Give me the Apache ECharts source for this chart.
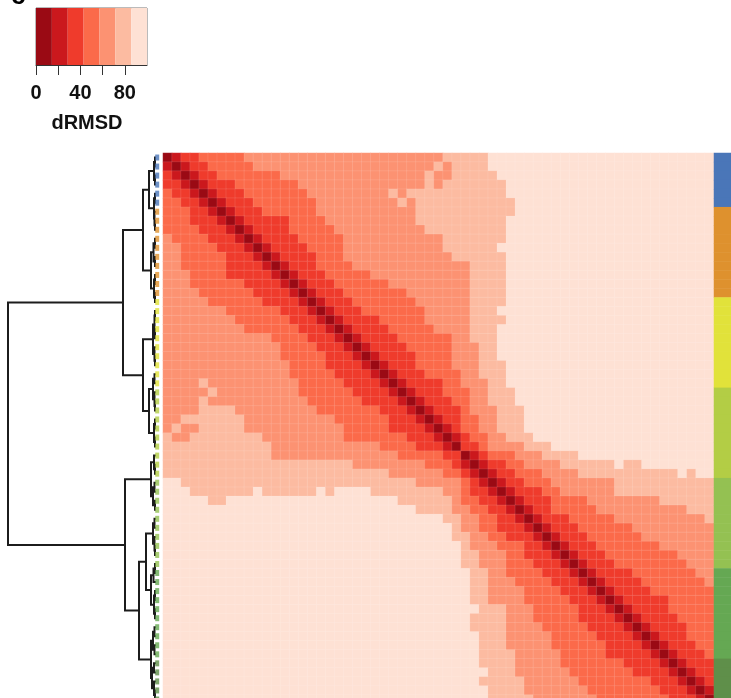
<!DOCTYPE html>
<html><head><meta charset="utf-8">
<script src="https://cdn.jsdelivr.net/npm/echarts@6/dist/echarts.min.js"></script>
<style>html,body{margin:0;padding:0;background:#fff;overflow:hidden}#c{width:731px;height:698px}</style>
</head><body><div id="c"></div>
<script>
// dRMSD class of each colour step
const levelValues = [7, 21, 35, 49, 63, 77, 91];
const levelColors = ['#9a0a14', '#cb181d', '#ef3b2c', '#fb6a4a', '#fc9272', '#fcbba1', '#fee1d4'];
const legendEdges = [0, 14.3, 28.6, 42.9, 57.2, 71.5, 85.8, 100];
const legendTicks = [0, 40, 80];

// Symmetric matrix, upper triangle: row by row, [level, last column of that level]
const upperRuns = [
[[0,0],[1,1],[2,3],[3,8],[4,30],[5,35],[6,60]],
[[0,1],[1,2],[2,4],[3,9],[4,29],[5,30],[4,31],[5,35],[6,60]],
[[0,2],[1,3],[2,5],[3,12],[4,28],[5,29],[4,31],[5,36],[6,60]],
[[0,3],[1,4],[2,7],[3,14],[4,28],[5,29],[4,30],[5,37],[6,60]],
[[0,4],[1,5],[2,8],[3,15],[4,24],[5,25],[4,26],[5,37],[6,60]],
[[0,5],[1,6],[2,9],[3,16],[4,25],[5,26],[4,27],[5,38],[6,60]],
[[0,6],[1,7],[2,10],[3,16],[4,27],[5,38],[6,60]],
[[0,7],[1,8],[2,13],[3,17],[4,27],[5,37],[6,60]],
[[0,8],[1,9],[2,13],[3,18],[4,28],[5,37],[6,60]],
[[0,9],[1,10],[2,14],[3,19],[4,30],[5,37],[6,60]],
[[0,10],[1,11],[2,15],[3,19],[4,30],[5,36],[6,60]],
[[0,11],[1,12],[2,16],[3,19],[4,31],[5,37],[6,60]],
[[0,12],[1,13],[2,16],[3,20],[4,33],[5,37],[6,60]],
[[0,13],[1,14],[2,17],[3,22],[4,33],[5,37],[6,60]],
[[0,14],[1,15],[2,18],[3,24],[4,33],[5,37],[6,60]],
[[0,15],[1,16],[2,19],[3,26],[4,33],[5,37],[6,60]],
[[0,16],[1,17],[2,20],[3,27],[4,33],[5,37],[6,60]],
[[0,17],[1,18],[2,21],[3,28],[4,33],[5,36],[6,60]],
[[0,18],[1,19],[2,23],[3,28],[4,33],[5,37],[6,60]],
[[0,19],[1,20],[2,24],[3,29],[4,33],[5,36],[6,60]],
[[0,20],[1,21],[2,25],[3,31],[4,33],[5,36],[6,60]],
[[0,21],[1,22],[2,26],[3,31],[4,34],[5,36],[6,60]],
[[0,22],[1,23],[2,27],[3,31],[4,34],[5,36],[6,60]],
[[0,23],[1,24],[2,27],[3,31],[4,34],[5,37],[6,60]],
[[0,24],[1,25],[2,28],[3,32],[4,34],[5,37],[6,60]],
[[0,25],[1,26],[2,30],[3,32],[4,35],[5,37],[6,60]],
[[0,26],[1,27],[2,30],[3,33],[4,35],[5,38],[6,60]],
[[0,27],[1,28],[2,31],[3,33],[4,35],[5,38],[6,60]],
[[0,28],[1,29],[2,32],[3,33],[4,36],[5,39],[6,60]],
[[0,29],[1,30],[2,32],[3,34],[4,36],[5,39],[6,60]],
[[0,30],[1,31],[2,32],[3,34],[4,36],[5,39],[6,60]],
[[0,31],[1,32],[2,33],[3,35],[4,37],[5,40],[6,60]],
[[0,32],[2,34],[3,35],[4,39],[5,42],[6,60]],
[[0,33],[1,34],[2,35],[3,38],[4,41],[5,45],[6,60]],
[[0,34],[1,35],[2,37],[3,39],[4,43],[5,49],[6,50],[5,52],[6,60]],
[[0,35],[1,36],[2,38],[3,41],[4,45],[5,56],[6,57],[5,58],[6,60]],
[[0,36],[1,37],[2,39],[3,42],[4,49],[5,60]],
[[0,37],[1,38],[2,41],[3,43],[4,49],[5,60]],
[[0,38],[1,39],[2,42],[3,46],[4,54],[5,60]],
[[0,39],[1,40],[2,42],[3,47],[4,57],[5,60]],
[[0,40],[1,41],[2,44],[3,49],[4,59],[5,60]],
[[0,41],[1,42],[2,45],[3,51],[4,60]],
[[0,42],[1,43],[2,46],[3,52],[4,60]],
[[0,43],[1,44],[2,47],[3,54],[4,60]],
[[0,44],[1,45],[2,48],[3,56],[4,60]],
[[0,45],[1,46],[2,49],[3,57],[4,60]],
[[0,46],[1,47],[2,51],[3,58],[4,60]],
[[0,47],[1,48],[2,52],[3,59],[4,60]],
[[0,48],[1,49],[2,53],[3,60]],
[[0,49],[1,50],[2,55],[3,60]],
[[0,50],[1,51],[2,55],[3,60]],
[[0,51],[1,52],[2,56],[3,60]],
[[0,52],[1,53],[2,57],[3,60]],
[[0,53],[1,54],[2,57],[3,60]],
[[0,54],[1,55],[2,58],[3,60]],
[[0,55],[1,56],[2,59],[3,60]],
[[0,56],[1,57],[2,60]],
[[0,57],[1,58],[2,60]],
[[0,58],[1,59],[2,60]],
[[0,59],[1,60]],
[[0,60]]
];

// Annotation strip: how many rows each group covers, and its colour
const groupSizes = [6, 10, 10, 10, 10, 10, 5];
const groupColors = ['#4a76b8', '#de912e', '#e1e23a', '#b3cd45', '#94c152', '#65a853', '#5f8f4a'];

// Dendrogram: [merge height, child, child]; a number is a leaf row
const dendroTree = [148,
  [33,
    [13,
      [7,
        [2, [1,0,1], [1,2,3]],
        [2, [1,4,5], [1.5,6,[1,7,8]]]
      ],
      [5,
        [2.5, [1,9,10], [1,11,12]],
        [2, [1,13,14], [1,15,16]]
      ]
    ],
    [13,
      [3,
        [1.5, [1,17,18], [1,19,20]],
        [1.5, 21, [1,22,23]]
      ],
      [7,
        [3, [1.5,24,25], [1.5,26,[1,27,28]]],
        [2, [1,29,30], [1,31,32]]
      ]
    ]
  ],
  [31,
    [5,
      [2, 33, [1,34,35]],
      [3, [1.5,36,37], [1,38,39]]
    ],
    [17,
      [10,
        [3, [1.5,40,41], [1.5,42,[1,43,44]]],
        [5, [2.5,[1,45,46],47], [2,[1,48,49],[1,50,51]]]
      ],
      [5,
        [3, [1.5,52,53], [1.5,54,55]],
        [4, [2,56,57], [2,58,[1,59,60]]]
      ]
    ]
  ]
];

const rowCount = upperRuns.length;
const matrix = [];
upperRuns.forEach((runs, r) => {
  let c = r;
  runs.forEach(([lvl, last]) => {
    for (; c <= last; c++) {
      matrix.push([c, r, levelValues[lvl]]);
      if (c !== r) matrix.push([r, c, levelValues[lvl]]);
    }
  });
});

const rowNames = Array.from({length: rowCount}, (_, i) => String(i));
const stripData = [], leafData = [];
let row = 0;
groupSizes.forEach((n, g) => {
  for (let i = 0; i < n; i++, row++) {
    stripData.push({value: [0, row, g], itemStyle: {color: groupColors[g]}});
    leafData.push({value: [-1.2, row], itemStyle: {color: groupColors[g]}});
  }
});

// Walk the tree: every merge gives one bracket
const brackets = [];
function walk(node) {
  if (typeof node === 'number') return {h: 0, p: node};
  const a = walk(node[1]), b = walk(node[2]);
  brackets.push([a.h, a.p, node[0], b.p, b.h]);
  return {h: node[0], p: (a.p + b.p) / 2};
}
walk(dendroTree);

const legendData = levelColors.map((col, i) => ({value: [legendEdges[i], legendEdges[i + 1]], itemStyle: {color: col}}));

const chart = echarts.init(document.getElementById('c'), null, {renderer: 'canvas'});
const font = '"Liberation Sans", Arial, sans-serif';
chart.setOption({
  animation: false,
  backgroundColor: '#fff',
  graphic: [{type: 'text', left: 11, top: -16, style: {text: 'c', fontSize: 26, fontWeight: 'bold', fontFamily: font, fill: '#000'}}],
  grid: [
    {left: 163, top: 153, width: 551, height: 551, outerBoundsMode: 'none'},
    {left: 714, top: 153, width: 20, height: 551, outerBoundsMode: 'none'},
    {left: 8, top: 153, width: 152, height: 551, outerBoundsMode: 'none'},
    {left: 36, top: 8, width: 111, height: 57, outerBoundsMode: 'none', show: true, backgroundColor: 'transparent', borderColor: '#777', borderWidth: 1}
  ],
  xAxis: [
    {type: 'category', gridIndex: 0, data: rowNames, show: false},
    {type: 'category', gridIndex: 1, data: ['group'], show: false},
    {type: 'value', gridIndex: 2, min: -4, max: 148, inverse: true, show: false},
    {type: 'value', gridIndex: 3, min: 0, max: 100, interval: 20,
      splitLine: {show: false},
      axisLine: {show: true, lineStyle: {color: '#333', width: 1}},
      axisTick: {show: true, length: 10, lineStyle: {color: '#333', width: 1}},
      axisLabel: {margin: 18, fontSize: 20, fontFamily: font, fontWeight: 'bold', color: '#111', hideOverlap: false,
        showMinLabel: true, showMaxLabel: false,
        formatter: v => legendTicks.includes(v) ? String(v) : ''},
      name: 'dRMSD', nameLocation: 'middle', nameGap: 48,
      nameTextStyle: {fontSize: 20, fontFamily: font, fontWeight: 'bold', color: '#111', padding: [0, 9, 0, 0]}}
  ],
  yAxis: [
    {type: 'category', gridIndex: 0, data: rowNames, inverse: true, show: false},
    {type: 'category', gridIndex: 1, data: rowNames, inverse: true, show: false},
    {type: 'value', gridIndex: 2, min: -0.5, max: 60.5, inverse: true, show: false},
    {type: 'value', gridIndex: 3, min: 0, max: 1, show: false}
  ],
  visualMap: {
    show: false, type: 'piecewise', seriesIndex: 0, dimension: 2,
    pieces: levelColors.map((col, i) => ({min: legendEdges[i], max: legendEdges[i + 1], color: col}))
  },
  series: [
    {type: 'heatmap', xAxisIndex: 0, yAxisIndex: 0, data: matrix, progressive: 0,
      itemStyle: {borderColor: 'rgba(255,255,255,0.18)', borderWidth: 0.6}, emphasis: {disabled: true}},
    {type: 'heatmap', xAxisIndex: 1, yAxisIndex: 1, data: stripData, progressive: 0, emphasis: {disabled: true}},
    {type: 'custom', xAxisIndex: 2, yAxisIndex: 2, data: brackets, silent: true, clip: false,
      renderItem: (params, api) => {
        const a = api.coord([api.value(0), api.value(1)]);
        const b = api.coord([api.value(2), api.value(1)]);
        const c = api.coord([api.value(2), api.value(3)]);
        const d = api.coord([api.value(4), api.value(3)]);
        return {type: 'polyline', shape: {points: [a, b, c, d]},
          style: {stroke: '#1c1c1c', lineWidth: 2, fill: 'none'}};
      }},
    {type: 'scatter', xAxisIndex: 2, yAxisIndex: 2, data: leafData, symbol: 'rect', symbolSize: [4, 6], silent: true, clip: false},
    {type: 'custom', xAxisIndex: 3, yAxisIndex: 3, data: legendData, silent: true,
      renderItem: (params, api) => {
        const p0 = api.coord([api.value(0), 1]);
        const p1 = api.coord([api.value(1), 0]);
        return {type: 'rect', shape: {x: p0[0], y: p0[1], width: p1[0] - p0[0], height: p1[1] - p0[1]},
          style: {fill: legendData[params.dataIndex].itemStyle.color}};
      }}
  ]
});
</script></body></html>
